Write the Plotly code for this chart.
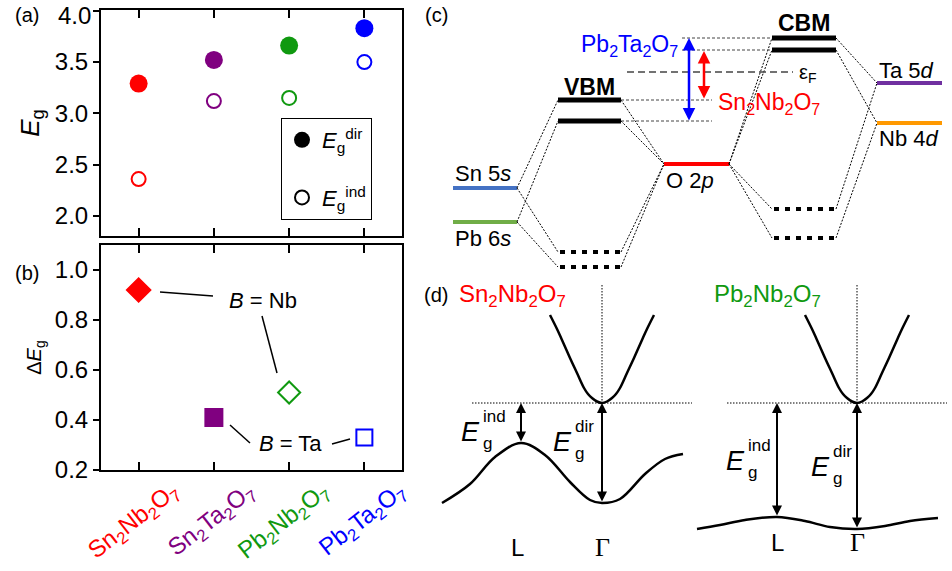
import plotly.graph_objects as go

W, H = 952, 571
FONT = "Arial, 'Liberation Sans', sans-serif"
SERIF = "'Times New Roman', 'Liberation Serif', serif"

# ---------------- data: panels (a) and (b) ----------------
compounds = ["Sn2Nb2O7", "Sn2Ta2O7", "Pb2Nb2O7", "Pb2Ta2O7"]
compound_labels = ["Sn<sub>2</sub>Nb<sub>2</sub>O<sub>7</sub>",
                   "Sn<sub>2</sub>Ta<sub>2</sub>O<sub>7</sub>",
                   "Pb<sub>2</sub>Nb<sub>2</sub>O<sub>7</sub>",
                   "Pb<sub>2</sub>Ta<sub>2</sub>O<sub>7</sub>"]
compound_colors = ["#FF0000", "#800080", "#109910", "#0000FF"]
eg_dir = [3.29, 3.52, 3.66, 3.83]
eg_ind = [2.36, 3.12, 3.15, 3.50]
delta_eg = [0.92, 0.41, 0.51, 0.33]
delta_symbols = ["diamond", "square", "diamond-open", "square-open"]
delta_sizes = [18, 17, 17, 16]
eg_ticks = [2.0, 2.5, 3.0, 3.5, 4.0]
eg_ticktext = ["2.0", "2.5", "3.0", "3.5", ""]   # top label "4.0" is set just below its tick, as in the original
deg_ticks = [0.2, 0.4, 0.6, 0.8, 1.0]

# ---------------- schematic geometry (panel pixels) for (c) and (d) ----------------
level_names = ["Sn 5<i>s</i>", "Pb 6<i>s</i>", "O 2<i>p</i>", "Ta 5<i>d</i>", "Nb 4<i>d</i>"]
level_colors = ["#4472C4", "#70AD47", "#FF0000", "#7030A0", "#FF9900"]
level_x0 = [453, 453, 664, 877, 877]
level_x1 = [517, 517, 729, 942, 942]
level_y = [188, 222, 164, 83, 123]
level_label_y = [173, 238, 180, 70, 138]

vbm_y = [100, 121]
vbm_x = [558, 621]
cbm_y = [38, 50]
cbm_x = [772, 836]
vb_bond_y = [252, 267]
cb_anti_y = [209, 238]

# dotted connectors (x0, y0, x1, y1)
connectors = [
    (517, 188, 558, 100), (517, 188, 558, 252), (517, 222, 558, 121), (517, 222, 558, 267),
    (621, 100, 664, 164), (621, 121, 664, 164), (621, 252, 664, 164), (621, 267, 664, 164),
    (729, 164, 772, 38), (729, 164, 772, 50), (729, 164, 772, 209), (729, 164, 772, 238),
    (836, 38, 877, 83), (836, 50, 877, 123), (836, 209, 877, 83), (836, 238, 877, 123),
]
guides = [(682, 38, 772, 38), (682, 50, 772, 50), (621, 100, 712, 100), (621, 121, 712, 121)]
fermi = (627, 72, 793, 72)

# band sketches (d)
cb_dx = [-52, -45, -40, -32, -25, -18, -14, -10, -5, 0, 5, 10, 14, 18, 25, 32, 40, 45, 52]
cb_h = [88, 74, 63, 45, 30, 15, 9, 5, 1.5, 0, 1.5, 5, 9, 15, 30, 45, 63, 74, 88]
sn_vb_x = [442, 470, 495, 521, 545, 570, 590, 602, 620, 645, 665, 683]
sn_vb_y = [503, 484, 457, 443, 455, 482, 500, 503, 499, 474, 459, 454]
pb_vb_x = [697, 720, 745, 777, 805, 830, 857, 885, 910, 938]
pb_vb_y = [529, 525, 520, 517, 521, 527, 529, 526, 521, 518]
gamma_x = [602, 857]
l_x = [521, 777]
cb_min_y = 403

fig = go.Figure()

# ---------------- panel (a) ----------------
fig.add_trace(go.Scatter(x=compounds, y=eg_dir, mode="markers",
                         marker=dict(color=compound_colors, size=18, opacity=1),
                         xaxis="x", yaxis="y", showlegend=False))
fig.add_trace(go.Scatter(x=compounds, y=eg_ind, mode="markers",
                         marker=dict(symbol="circle-open", color=compound_colors, size=14,
                                     opacity=1, line=dict(width=2)),
                         xaxis="x", yaxis="y", showlegend=False))
fig.add_trace(go.Scatter(x=[None], y=[None], mode="markers",
                         marker=dict(color="black", size=16),
                         name="<i>E</i><sub>g</sub><sup>dir</sup>", legendgroup="dir",
                         xaxis="x", yaxis="y"))
fig.add_trace(go.Scatter(x=[None], y=[None], mode="markers",
                         marker=dict(symbol="circle-open", color="black", size=14, line=dict(width=2)),
                         name="<i>E</i><sub>g</sub><sup>ind</sup>", legendgroup="ind",
                         xaxis="x", yaxis="y"))

# ---------------- panel (b) ----------------
fig.add_trace(go.Scatter(x=compounds, y=delta_eg, mode="markers",
                         marker=dict(symbol=delta_symbols, color=compound_colors, size=delta_sizes,
                                     opacity=1, line=dict(width=2, color=compound_colors)),
                         xaxis="x2", yaxis="y2", showlegend=False))

# ---------------- panel (d) curves ----------------
for gx, vbx, vby in [(gamma_x[0], sn_vb_x, sn_vb_y), (gamma_x[1], pb_vb_x, pb_vb_y)]:
    fig.add_trace(go.Scatter(x=[gx + d for d in cb_dx], y=[cb_min_y - h for h in cb_h],
                             mode="lines", line=dict(color="black", width=2.5, shape="spline"),
                             xaxis="x3", yaxis="y3", showlegend=False, hoverinfo="skip"))
    fig.add_trace(go.Scatter(x=vbx, y=vby, mode="lines",
                             line=dict(color="black", width=2.5, shape="spline"),
                             xaxis="x3", yaxis="y3", showlegend=False, hoverinfo="skip"))

shapes = []
def seg(x0, y0, x1, y1, color="black", width=1, dash="solid"):
    shapes.append(dict(type="line", xref="x3", yref="y3", x0=x0, y0=y0, x1=x1, y1=y1,
                       line=dict(color=color, width=width, dash=dash)))

# leader lines in (b)
seg(160, 292, 213, 296, width=1.5)
seg(262, 316, 277, 373, width=1.5)
seg(230, 425, 250, 443, width=1.5)
seg(332, 444, 350, 439, width=1.5)

# (c) levels
for x0, x1, y, c in zip(level_x0, level_x1, level_y, level_colors):
    seg(x0, y, x1, y, color=c, width=4)
for y in vbm_y:
    seg(vbm_x[0], y, vbm_x[1], y, width=5)
for y in cbm_y:
    seg(cbm_x[0], y, cbm_x[1], y, width=5)
for y in vb_bond_y:
    seg(vbm_x[0] + 2, y, vbm_x[1], y, width=4, dash="5px,6px")
for y in cb_anti_y:
    seg(cbm_x[0] + 2, y, cbm_x[1], y, width=4, dash="5px,6px")
for c in connectors:
    seg(*c, width=1, dash="2px,1.5px")
for g in guides:
    seg(*g, color="#444444", width=1, dash="3px,2px")
seg(*fermi, color="#444444", width=1.5, dash="7px,4px")

# (d) guide lines
seg(602, 285, 602, 403, width=1, dash="1.5px,1.5px")
seg(857, 285, 857, 403, width=1, dash="1.5px,1.5px")
seg(472, 403, 692, 403, width=1, dash="1.5px,1.5px")
seg(727, 403, 947, 403, width=1, dash="1.5px,1.5px")

annotations = []
def txt(x, y, text, size=22, color="black", xanchor="center", family=FONT, yanchor="middle"):
    annotations.append(dict(x=x, y=y, xref="x3", yref="y3", text=text, showarrow=False,
                            xanchor=xanchor, yanchor=yanchor,
                            font=dict(size=size, color=color, family=family)))

def arrow(x, y0, y1, color="black", width=2):
    annotations.append(dict(x=x, y=y0, ax=x, ay=y1, xref="x3", yref="y3", axref="x3", ayref="y3",
                            text="", showarrow=True, arrowhead=2, startarrowhead=2,
                            arrowside="end+start", arrowsize=1, startarrowsize=1,
                            arrowwidth=width, arrowcolor=color, standoff=0, startstandoff=0))

def eg(xE, yE, sup):
    txt(xE, yE, "<i>E</i>", size=27)
    txt(xE + 11, yE + 11, "g", size=17, xanchor="left")
    txt(xE + 11, yE - 16, sup, size=17, xanchor="left")

# panel labels
txt(27, 15, "(a)", size=20)
txt(27, 273, "(b)", size=20)
txt(436, 15, "(c)", size=20)
txt(436, 295, "(d)", size=20)

# top tick label of (a)
annotations.append(dict(x=0, xref="paper", xanchor="right", xshift=93, y=1 - 15 / H, yref="paper",
                        yanchor="middle", text="4.0", showarrow=False,
                        font=dict(size=24, family=FONT, color="black")))

# (b) text
txt(263, 300, "<i>B</i> = Nb", size=22)
txt(290, 443, "<i>B</i> = Ta", size=22)

# (c) text
for name, x0, ly in zip(level_names, level_x0, level_label_y):
    txt(x0, ly, name, size=22, xanchor="left")
txt(680, 45, "Pb<sub>2</sub>Ta<sub>2</sub>O<sub>7</sub>", size=23, color="#0000FF", xanchor="right")
txt(716, 103, "Sn<sub>2</sub>Nb<sub>2</sub>O<sub>7</sub>", size=23, color="#FF0000", xanchor="left")
txt(589, 87, "<b>VBM</b>", size=23)
txt(804, 23, "<b>CBM</b>", size=23)
txt(797, 73, "ε<sub>F</sub>", size=20, xanchor="left")
arrow(689, 38, 122, color="#0000FF", width=2.5)
arrow(704, 51, 100, color="#FF0000", width=2.5)

# (d) text
txt(457, 295, "Sn<sub>2</sub>Nb<sub>2</sub>O<sub>7</sub>", size=24, color="#FF0000", xanchor="left")
txt(712, 295, "Pb<sub>2</sub>Nb<sub>2</sub>O<sub>7</sub>", size=24, color="#109910", xanchor="left")
arrow(l_x[0], 403, 443)
arrow(gamma_x[0], 403, 503)
arrow(l_x[1], 403, 517)
arrow(gamma_x[1], 403, 529)
eg(470, 432, "ind")
eg(562, 442, "dir")
eg(735, 461, "ind")
eg(820, 467, "dir")
txt(l_x[0] - 4, 547, "L", size=24)
txt(gamma_x[0], 547, "Γ", size=26, family=SERIF)
txt(l_x[1], 542, "L", size=24)
txt(gamma_x[1], 542, "Γ", size=26, family=SERIF)

# compound tick labels for (b)
for c, lab, col in zip(compounds, compound_labels, compound_colors):
    annotations.append(dict(x=c, xref="x2", y=1 - 474 / H, yref="paper", text=lab,
                            textangle=-38, xanchor="right", yanchor="top", xshift=50,
                            showarrow=False, font=dict(size=24, color=col, family=FONT)))

def xax(domain, anchor):
    return dict(domain=domain, anchor=anchor, type="category", categoryarray=compounds,
                range=[-0.5, 3.5], showline=True, linewidth=2, linecolor="black",
                mirror="ticks", ticks="inside", ticklen=8, tickwidth=2, tickcolor="black",
                showticklabels=False, showgrid=False, zeroline=False, fixedrange=True,
                automargin=False)

def yax(domain, anchor, rng, tickvals, ticktext, title, tsize):
    return dict(domain=domain, anchor=anchor, range=rng, tickvals=tickvals, ticktext=ticktext,
                showline=True, linewidth=2, linecolor="black", mirror=True,
                ticks="outside", ticklen=6, tickwidth=2, tickcolor="black",
                ticklabeloverflow="allow", automargin=False,
                tickfont=dict(size=24, family=FONT, color="black"),
                title=dict(text=title, font=dict(size=tsize, family=FONT, color="black"), standoff=8),
                showgrid=False, zeroline=False, fixedrange=True)

def yright(overlay, anchor, rng, tickvals):
    return dict(overlaying=overlay, anchor=anchor, side="right", range=rng, tickvals=tickvals,
                ticks="inside", ticklen=6, tickwidth=2, tickcolor="black", automargin=False,
                showticklabels=False, showline=False, showgrid=False, zeroline=False, fixedrange=True)

dom_a = [1 - 236 / H, 1 - 10 / H]
dom_b = [1 - 470 / H, 1 - 245 / H]
dom_x = [101 / W, 402 / W]
rng_a = [1.805, 4.007]
rng_b = [0.2, 1.1]

fig.update_layout(
    width=W, height=H,
    margin=dict(l=0, r=0, t=0, b=0, autoexpand=False),
    paper_bgcolor="white", plot_bgcolor="rgba(0,0,0,0)",
    font=dict(family=FONT, color="black"),
    xaxis=xax(dom_x, "y"),
    yaxis=yax(dom_a, "x", rng_a, eg_ticks, eg_ticktext, "<i>E</i><sub>g</sub>", 26),
    xaxis2=xax(dom_x, "y2"),
    yaxis2=yax(dom_b, "x2", rng_b, deg_ticks, [f"{v:.1f}" for v in deg_ticks],
               "Δ<i>E</i><sub>g</sub>", 20),
    yaxis4=yright("y", "x", rng_a, eg_ticks),
    yaxis5=yright("y2", "x2", rng_b, deg_ticks),
    xaxis3=dict(domain=[0, 1], anchor="y3", range=[0, W], visible=False, fixedrange=True),
    yaxis3=dict(domain=[0, 1], anchor="x3", range=[H, 0], visible=False, fixedrange=True),
    legend=dict(x=281 / W, y=1 - 118 / H, xanchor="left", yanchor="top",
                bordercolor="black", borderwidth=1, bgcolor="white",
                font=dict(size=22, family=FONT), tracegroupgap=26),
    shapes=shapes, annotations=annotations,
)

fig.write_html("out.html", config={"displayModeBar": False},
               post_script="document.body.style.margin='0';document.body.style.overflow='hidden';")
